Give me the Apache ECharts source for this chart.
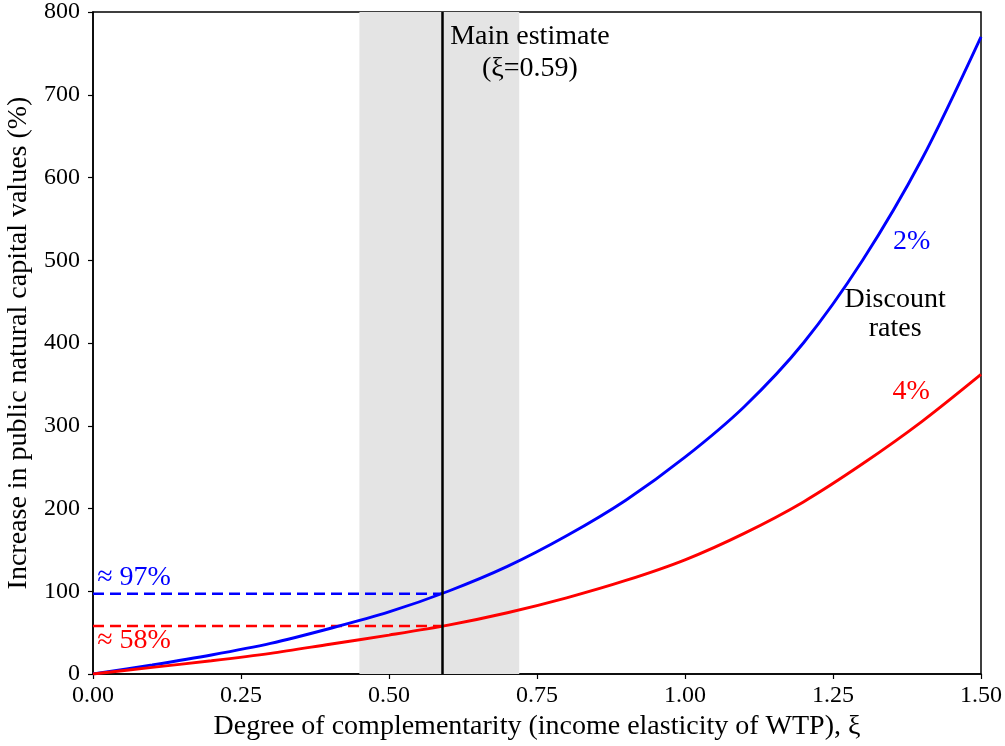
<!DOCTYPE html>
<html><head><meta charset="utf-8">
<script src="https://cdn.jsdelivr.net/npm/echarts@6/dist/echarts.min.js"></script>
<style>html,body{margin:0;padding:0;background:#fff}#c{width:1005px;height:746px}</style>
</head><body><div id="c"></div>
<script>
// Data
const xi      = [0, 0.1, 0.2, 0.3, 0.4, 0.5, 0.6, 0.7, 0.8, 0.9, 1.0, 1.1, 1.2, 1.3, 1.4, 1.5];
const rate2pc = [0, 11, 23, 37, 55, 75, 100, 130, 167, 210, 262, 323, 400, 500, 622, 770];
const rate4pc = [0, 8, 16, 25, 36, 47, 59, 74, 92, 113, 138, 170, 208, 254, 305, 362];
const mainEstimate = 0.59;
const bandRange = [0.45, 0.72];
const valueAtMain2 = 97;
const valueAtMain4 = 58;
const xTickInterval = 0.25;
const yTickInterval = 100;

const FONT = '"Liberation Serif", "DejaVu Serif", serif';
const chart = echarts.init(document.getElementById('c'));

function pairs(xs, ys) { return xs.map((x, i) => [x, ys[i]]); }

chart.setOption({
  animation: false,
  backgroundColor: '#fff',
  grid: { left: 93, right: 24, top: 12, bottom: 72, containLabel: false, outerBoundsMode: 'none',
    show: true, borderColor: '#000', borderWidth: 1.5, backgroundColor: 'transparent' },
  xAxis: {
    type: 'value', min: 0, max: 1.5, interval: xTickInterval,
    name: 'Degree of complementarity (income elasticity of WTP), ξ',
    nameLocation: 'middle', nameGap: 29,
    nameTextStyle: { fontFamily: FONT, fontSize: 28, color: '#000' },
    axisLine: { show: true, onZero: false, lineStyle: { color: '#000', width: 1.5 } },
    axisTick: { show: true, length: 5, lineStyle: { color: '#000', width: 1.2 } },
    axisLabel: { fontFamily: FONT, fontSize: 24, color: '#000', margin: 10, formatter: v => v.toFixed(2) },
    splitLine: { show: false }
  },
  yAxis: {
    type: 'value', min: 0, max: 800, interval: yTickInterval,
    name: 'Increase in public natural capital values (%)',
    nameLocation: 'middle', nameGap: 59,
    nameTextStyle: { fontFamily: FONT, fontSize: 28, color: '#000' },
    axisLine: { show: true, lineStyle: { color: '#000', width: 1.5 } },
    axisTick: { show: true, length: 5, lineStyle: { color: '#000', width: 1.2 } },
    axisLabel: { fontFamily: FONT, fontSize: 24, color: '#000', margin: 13 },
    splitLine: { show: false }
  },
  series: [
    {
      type: 'line', name: 'band', data: [], silent: true,
      markArea: { silent: true, itemStyle: { color: '#e4e4e4' }, data: [[{ xAxis: bandRange[0] }, { xAxis: bandRange[1] }]] }
    },
    {
      type: 'line', name: '2%', data: pairs(xi, rate2pc), smooth: 0.3, showSymbol: false,
      lineStyle: { color: '#0000ff', width: 2.9 }, z: 3
    },
    {
      type: 'line', name: '4%', data: pairs(xi, rate4pc), smooth: 0.3, showSymbol: false,
      lineStyle: { color: '#ff0000', width: 2.9 }, z: 3
    },
    {
      type: 'line', name: 'dash2', data: [[0, valueAtMain2], [mainEstimate, valueAtMain2]], showSymbol: false,
      lineStyle: { color: '#0000ff', width: 2.5, type: [11, 6] }, z: 2
    },
    {
      type: 'line', name: 'dash4', data: [[0, valueAtMain4], [mainEstimate, valueAtMain4]], showSymbol: false,
      lineStyle: { color: '#ff0000', width: 2.5, type: [11, 6] }, z: 2
    },
    {
      type: 'line', name: 'main', data: [], silent: true,
      markLine: { silent: true, symbol: 'none', label: { show: false },
        lineStyle: { color: '#000', width: 2.5, type: 'solid' },
        data: [{ xAxis: mainEstimate }] }, z: 5
    }
  ]
});

// Annotations anchored in data coordinates
const notes = [
  { t: 'Main estimate', at: [0.738, 770], c: '#000', align: 'center' },
  { t: '(ξ=0.59)', at: [0.738, 732], c: '#000', align: 'center' },
  { t: '2%', at: [1.383, 522], c: '#0000ff', align: 'center' },
  { t: 'Discount', at: [1.355, 452], c: '#000', align: 'center' },
  { t: 'rates', at: [1.355, 417], c: '#000', align: 'center' },
  { t: '4%', at: [1.382, 341], c: '#ff0000', align: 'center' },
  { t: '≈ 97%', at: [0.007, 116], c: '#0000ff', align: 'left' },
  { t: '≈ 58%', at: [0.007, 40], c: '#ff0000', align: 'left' }
];
chart.setOption({
  graphic: notes.map(n => {
    const p = chart.convertToPixel({ gridIndex: 0 }, n.at);
    return { type: 'text', x: p[0], y: p[1], z: 10,
      style: { text: n.t, fill: n.c, font: '28px ' + FONT, textAlign: n.align, textVerticalAlign: 'middle' } };
  })
});
</script></body></html>
